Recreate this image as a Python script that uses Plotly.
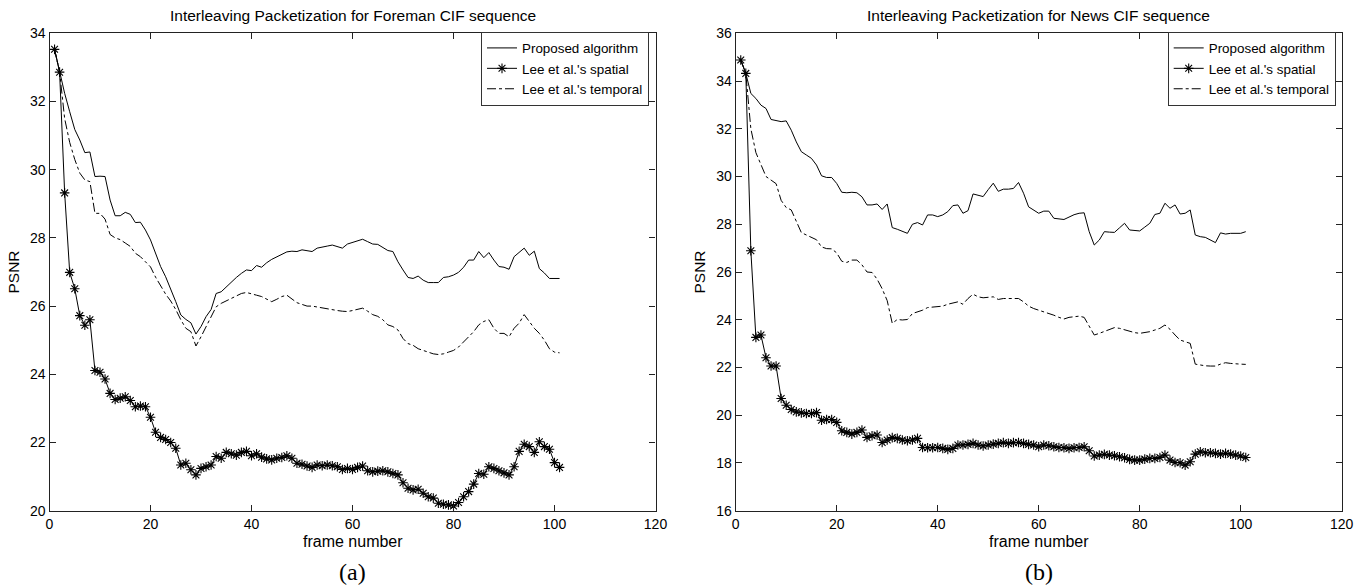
import plotly.graph_objects as go

frames = list(range(1, 102))

x_ticks = [0, 20, 40, 60, 80, 100, 120]
y_ticks_a = [20, 22, 24, 26, 28, 30, 32, 34]
y_ticks_b = [16, 18, 20, 22, 24, 26, 28, 30, 32, 34, 36]

series_names = ["Proposed algorithm", "Lee et al.'s spatial", "Lee et al.'s temporal"]

foreman_proposed = [
    33.53, 32.86, 32.24, 31.7, 31.18, 30.87, 30.5, 30.52, 29.8, 29.81,
    29.8, 29.11, 28.65, 28.65, 28.75, 28.69, 28.45, 28.46, 28.23, 27.94,
    27.55, 27.16, 26.86, 26.52, 26.13, 25.74, 25.61, 25.51, 25.18, 25.4,
    25.69, 25.9, 26.37, 26.42, 26.57, 26.71, 26.84, 26.96, 27.06, 27.04,
    27.19, 27.14, 27.27, 27.37, 27.45, 27.53, 27.59, 27.61, 27.6, 27.65,
    27.63, 27.6, 27.7, 27.74, 27.76, 27.79, 27.74, 27.7, 27.82, 27.86,
    27.92, 27.96, 27.89, 27.82, 27.81, 27.72, 27.63, 27.6, 27.3, 27.06,
    26.84, 26.81, 26.88, 26.76, 26.69, 26.69, 26.69, 26.84, 26.86, 26.91,
    26.99, 27.14, 27.35, 27.35, 27.6, 27.42, 27.57, 27.35, 27.16, 27.14,
    27.08, 27.45, 27.57, 27.7, 27.49, 27.61, 27.1, 26.97, 26.81, 26.81, 26.81]

foreman_spatial = [
    33.53, 32.86, 29.32, 26.99, 26.51, 25.72, 25.44, 25.6, 24.11, 24.06,
    23.86, 23.44, 23.26, 23.3, 23.34, 23.23, 23.05, 23.07, 23.05, 22.74,
    22.3, 22.15, 22.09, 22.0, 21.83, 21.34, 21.39, 21.2, 21.05, 21.24,
    21.29, 21.34, 21.59, 21.54, 21.71, 21.67, 21.63, 21.71, 21.74, 21.61,
    21.67, 21.57, 21.52, 21.49, 21.54, 21.56, 21.61, 21.54, 21.39, 21.36,
    21.31, 21.27, 21.34, 21.32, 21.34, 21.32, 21.29, 21.21, 21.24, 21.21,
    21.27, 21.31, 21.17, 21.14, 21.16, 21.17, 21.14, 21.09, 21.05, 20.82,
    20.66, 20.61, 20.63, 20.51, 20.41, 20.37, 20.22, 20.19, 20.17, 20.14,
    20.24, 20.41, 20.56, 20.78, 21.09, 21.07, 21.29, 21.24, 21.17, 21.11,
    21.05, 21.29, 21.74, 21.95, 21.88, 21.71, 22.02, 21.88, 21.8, 21.41, 21.27]

foreman_temporal = [
    33.53, 32.86, 31.5, 30.8, 30.3, 29.9, 29.7, 29.65, 28.72, 28.72,
    28.55, 28.1, 28.0, 27.95, 27.85, 27.75, 27.55, 27.45, 27.3, 27.15,
    26.85, 26.6, 26.35, 26.15, 25.9, 25.6, 25.35, 25.25, 24.83, 25.1,
    25.4, 25.7, 25.98, 26.08, 26.15, 26.23, 26.3, 26.37, 26.4, 26.35,
    26.32, 26.28, 26.2, 26.13, 26.2, 26.28, 26.32, 26.2, 26.1, 26.05,
    26.0, 26.0, 25.97, 25.95, 25.92, 25.9, 25.87, 25.85, 25.84, 25.87,
    25.9, 25.94, 25.85, 25.75, 25.7, 25.6, 25.45, 25.4, 25.3, 25.05,
    24.9, 24.85, 24.75, 24.7, 24.65, 24.6, 24.58, 24.6, 24.65, 24.7,
    24.8, 24.95, 25.1, 25.25, 25.45, 25.55, 25.6, 25.35, 25.2, 25.2,
    25.1, 25.35, 25.5, 25.75, 25.55, 25.35, 25.2, 25.0, 24.75, 24.65, 24.63]

news_proposed = [
    34.88, 34.32, 33.48, 33.27, 32.99, 32.85, 32.39, 32.33, 32.3, 32.33,
    31.94, 31.45, 31.04, 30.9, 30.76, 30.48, 30.03, 29.96, 29.96, 29.71,
    29.34, 29.32, 29.34, 29.32, 29.15, 28.81, 28.81, 28.85, 28.62, 28.85,
    27.86, 27.79, 27.72, 27.62, 28.0, 28.07, 27.97, 28.39, 28.39, 28.32,
    28.39, 28.53, 28.78, 28.81, 28.46, 28.57, 29.27, 29.2, 29.16, 29.45,
    29.72, 29.38, 29.47, 29.47, 29.5, 29.75, 29.3, 28.73, 28.6, 28.46,
    28.55, 28.55, 28.25, 28.22, 28.2, 28.3, 28.4, 28.46, 28.48, 27.69,
    27.13, 27.34, 27.69, 27.67, 27.66, 27.85, 28.04, 27.76, 27.74, 27.72,
    27.88, 28.04, 28.41, 28.46, 28.88, 28.67, 28.81, 28.43, 28.46, 28.6,
    27.55, 27.48, 27.45, 27.35, 27.23, 27.64, 27.59, 27.62, 27.62, 27.62, 27.69]

news_spatial = [
    34.88, 34.32, 26.89, 23.26, 23.36, 22.41, 22.06, 22.06, 20.7, 20.42,
    20.24, 20.14, 20.1, 20.07, 20.07, 20.11, 19.79, 19.82, 19.82, 19.7,
    19.35, 19.28, 19.21, 19.28, 19.38, 19.07, 19.14, 19.17, 18.86, 18.96,
    19.06, 19.03, 18.96, 18.93, 18.96, 19.03, 18.65, 18.64, 18.64, 18.65,
    18.61, 18.57, 18.61, 18.75, 18.75, 18.78, 18.82, 18.75, 18.71, 18.75,
    18.79, 18.82, 18.85, 18.82, 18.85, 18.86, 18.82, 18.78, 18.75, 18.68,
    18.75, 18.72, 18.68, 18.65, 18.64, 18.61, 18.64, 18.65, 18.68, 18.51,
    18.29, 18.33, 18.36, 18.33, 18.3, 18.26, 18.22, 18.15, 18.12, 18.12,
    18.16, 18.19, 18.19, 18.23, 18.33, 18.12, 18.02, 18.01, 17.91, 18.05,
    18.37, 18.47, 18.43, 18.43, 18.4, 18.37, 18.4, 18.37, 18.33, 18.29, 18.23]

news_temporal = [
    34.88, 34.32, 32.0, 31.0, 30.5, 30.0, 29.85, 29.7, 29.0, 28.7,
    28.6, 28.1, 27.65, 27.55, 27.45, 27.35, 27.05, 26.98, 26.97, 26.8,
    26.45, 26.4, 26.5, 26.5, 26.3, 26.0, 25.98, 25.7, 25.3, 24.8,
    23.85, 24.01, 23.99, 24.01, 24.26, 24.33, 24.4, 24.51, 24.54, 24.57,
    24.57, 24.65, 24.71, 24.75, 24.65, 24.89, 25.07, 24.96, 24.92, 24.95,
    24.96, 24.85, 24.89, 24.89, 24.89, 24.89, 24.75, 24.57, 24.47, 24.4,
    24.33, 24.29, 24.19, 24.1, 24.03, 24.1, 24.12, 24.15, 24.1, 23.7,
    23.36, 23.43, 23.5, 23.6, 23.67, 23.64, 23.57, 23.5, 23.46, 23.43,
    23.46, 23.5, 23.57, 23.64, 23.78, 23.6, 23.36, 23.15, 23.08, 23.01,
    22.14, 22.1, 22.07, 22.06, 22.06, 22.14, 22.2, 22.17, 22.17, 22.14, 22.13]

W, H = 1367, 588
FONT = "Liberation Sans, Arial, Helvetica, sans-serif"
SERIF = "Liberation Serif, Times New Roman, serif"

fig = go.Figure()


def add_panel(xa, ya, legend, prop, spat, temp):
    fig.add_trace(go.Scatter(
        x=frames, y=prop, name=series_names[0], mode="lines",
        line=dict(color="black", width=1), xaxis=xa, yaxis=ya, legend=legend))
    fig.add_trace(go.Scatter(
        x=frames, y=spat, name=series_names[1], mode="lines+markers",
        line=dict(color="black", width=1),
        marker=dict(symbol="asterisk-open", size=8, color="black",
                    line=dict(color="black", width=1.1)),
        xaxis=xa, yaxis=ya, legend=legend))
    fig.add_trace(go.Scatter(
        x=frames, y=temp, name=series_names[2], mode="lines",
        line=dict(color="black", width=1, dash="dashdot"),
        xaxis=xa, yaxis=ya, legend=legend))


add_panel("x", "y", "legend", foreman_proposed, foreman_spatial, foreman_temporal)
add_panel("x2", "y2", "legend2", news_proposed, news_spatial, news_temporal)


def px(sx):
    return sx / W


def py(sy):
    return 1 - sy / H


# plot areas in window pixels
top, bottom = 33.3, 510.7
l1, r1 = 49.5, 655.5
l2, r2 = 735.7, 1341.7
ydom = [py(bottom), py(top)]

axis_common = dict(
    showline=True, linecolor="#222", linewidth=1.3, mirror="ticks",
    ticks="inside", ticklen=6, tickwidth=1, tickcolor="#222",
    showgrid=False, zeroline=False, automargin=False,
    tickfont=dict(family=FONT, size=14, color="black"),
)

legend_common = dict(
    xanchor="right", y=py(31.7), yanchor="top",
    bgcolor="white", bordercolor="#333", borderwidth=1,
    font=dict(family=FONT, size=13.4), itemwidth=30, tracegroupgap=0,
)


def ann(text, sx, sy, family=FONT, size=13, **kw):
    return dict(text=text, x=px(sx), y=py(sy), xref="paper", yref="paper",
                xanchor="center", yanchor="middle", showarrow=False,
                font=dict(family=family, size=size, color="black"), **kw)


fig.update_layout(
    width=W, height=H,
    margin=dict(l=0, r=0, t=0, b=0, autoexpand=False),
    paper_bgcolor="white", plot_bgcolor="white",
    font=dict(family=FONT, color="black"),
    xaxis=dict(domain=[px(l1), px(r1)], anchor="y", range=[0, 120], tickvals=x_ticks, **axis_common),
    yaxis=dict(domain=ydom, anchor="x", range=[20, 34], tickvals=y_ticks_a, **axis_common),
    xaxis2=dict(domain=[px(l2), px(r2)], anchor="y2", range=[0, 120], tickvals=x_ticks, **axis_common),
    yaxis2=dict(domain=ydom, anchor="x2", range=[16, 36], tickvals=y_ticks_b, **axis_common),
    legend=dict(x=px(649), **legend_common),
    legend2=dict(x=px(1335.7), **legend_common),
    annotations=[
        ann("Interleaving Packetization for Foreman CIF sequence", (l1 + r1) / 2, 15.5, size=15.5),
        ann("Interleaving Packetization for News CIF sequence", (l2 + r2) / 2, 15.5, size=15.5),
        ann("frame number", (l1 + r1) / 2, 541, size=16),
        ann("frame number", (l2 + r2) / 2, 541, size=16),
        ann("PSNR", 12.5, (top + bottom) / 2, size=15.5, textangle=-90),
        ann("PSNR", 698.5, (top + bottom) / 2, size=15.5, textangle=-90),
        ann("(a)", (l1 + r1) / 2, 572, family=SERIF, size=24),
        ann("(b)", (l2 + r2) / 2, 572, family=SERIF, size=24),
    ],
)

# remove the browser's default 8px body margin so the figure sits at the window origin
fig.write_html("out.html", config={"displayModeBar": False},
               post_script="document.body.style.margin='0';")
